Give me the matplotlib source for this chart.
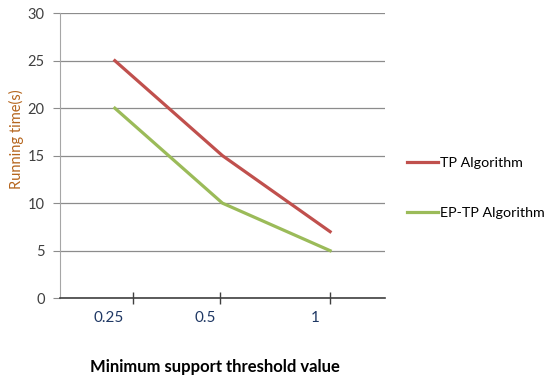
import matplotlib.pyplot as plt

# minimum support threshold values and running times (s)
thresholds = ["0.25", "0.5", "1"]
tp_times = [25, 15, 7]
ep_tp_times = [20, 10, 5]

plt.rcParams['font.family'] = ['Lato', 'DejaVu Sans']

fig = plt.figure(figsize=(5.5, 3.76), dpi=100)
ax = fig.add_axes([0.109, 0.207, 0.591, 0.758])

xs = list(range(len(thresholds)))
ax.plot(xs, tp_times, color='#C0504D', lw=2.3, label='TP Algorithm')
ax.plot(xs, ep_tp_times, color='#9BBB59', lw=2.3, label='EP-TP Algorithm')

ax.set_xlim(-0.51, 2.51)
ax.set_ylim(0, 30)
ax.set_yticks(range(0, 31, 5))
ax.yaxis.grid(True, color='#8c8c8c', lw=0.9)
ax.set_axisbelow(True)

# category labels sit a bit off the tick marks
ax.set_xticks([-0.06, 0.84, 1.86])
ax.set_xticklabels(thresholds)
ax.tick_params(axis='x', which='major', length=0, pad=9, labelsize=11, labelcolor='#1f3864')
ax.set_xticks([0.17, 0.98, 2.0], minor=True)
ax.tick_params(axis='x', which='minor', length=9, direction='inout', color='#404040', width=1)
ax.tick_params(axis='y', length=5, color='#8c8c8c', labelsize=10.5, labelcolor='#404040', pad=6)

for side in ('top', 'right'):
    ax.spines[side].set_visible(False)
ax.spines['left'].set_color('#a6a6a6')
ax.spines['bottom'].set_color('#404040')
ax.spines['bottom'].set_linewidth(1.2)

fig.text(0.03, 0.63, 'Running time(s)', rotation=90, ha='center', va='center',
         color='#b5651d', fontsize=10.5)
fig.text(0.39, 0.025, 'Minimum support threshold value', ha='center', va='center',
         fontsize=12, fontweight='bold')

fig.legend(loc='center left', bbox_to_anchor=(0.74, 0.5), frameon=False,
           fontsize=10.3, handlelength=2.2, handletextpad=0.1, labelspacing=2.6,
           borderaxespad=0, borderpad=0)

fig.savefig('out.png', dpi=100)
